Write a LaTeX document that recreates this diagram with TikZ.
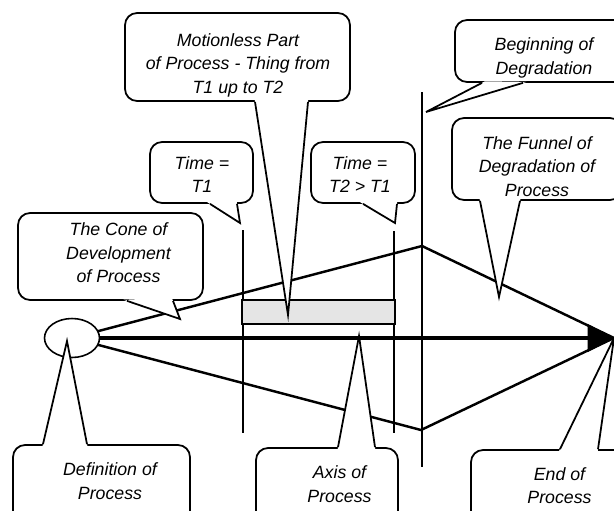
\documentclass[tikz,border=0pt]{standalone}
\usepackage{fontspec}
\setmainfont{Liberation Sans}
\usetikzlibrary{shapes.geometric, arrows.meta, calc}

\begin{document}
\begin{tikzpicture}[
          x=0.02cm, y=-0.02cm,
          txt/.style={font=\fontsize{10.1}{13.4}\selectfont\itshape, align=center, inner sep=0pt},
          bubble/.style={draw, fill=white, line width=1pt, rounded corners=0.24cm, inner sep=0pt},
          tail/.style={line width=1pt},
          conline/.style={line width=1.4pt},
          axisline/.style={line width=2pt, -{Triangle[length=15pt, width=15.5pt]}},
          tline/.style={line width=0.9pt},
          restbar/.style={draw, fill=black!10, line width=1.4pt, minimum width=3.06cm, minimum height=0.48cm, inner sep=0pt}
        ]
        \useasboundingbox (0,0) rectangle (614,510);
        \clip (0,0) rectangle (614,510);

        % main points of the process
        \coordinate (ctop) at (422,246);
        \coordinate (cbot) at (421,430);
        \coordinate (tipend) at (614,338);
        \coordinate (t1a) at (243,230);
        \coordinate (t1b) at (243,433);
        \coordinate (t2a) at (394,231);
        \coordinate (t2b) at (394,433);
        \coordinate (dga) at (422,92);
        \coordinate (dgb) at (422,467);

        % where the callouts point
        \coordinate (motiontip) at (288,315);
        \coordinate (begintip) at (426,112);
        \coordinate (funneltip) at (499,297);
        \coordinate (time1tip) at (240,223);
        \coordinate (time2tip) at (395,223);
        \coordinate (conetip) at (180,319);
        \coordinate (deftip) at (67,341);
        \coordinate (axistip) at (359,336);

        \node[ellipse, minimum width=1.1cm, minimum height=0.78cm, inner sep=0pt] (defpt) at (72,338) {};

        \draw[tline] (t1a) -- (t1b);
        \draw[tline] (t2a) -- (t2b);
        \draw[tline] (dga) -- (dgb);

        \draw[conline] (defpt) -- (ctop) -- (tipend) -- (cbot) -- (defpt);
        \draw[axisline] (defpt) -- (tipend);
        \node[draw, fill=white, line width=0.9pt, ellipse, minimum width=1.1cm, minimum height=0.78cm, inner sep=0pt] at (defpt) {};

        \node[restbar] (rest) at (318.5,312) {};

        % callout boxes
        \node[bubble, minimum width=4.5cm, minimum height=1.76cm] (motionbox) at (237.5,57) {};
        \node[bubble, minimum width=3.56cm, minimum height=1.24cm] (beginbox) at (544,51) {};
        \node[bubble, minimum width=3.4cm, minimum height=1.64cm] (funnelbox) at (537,159) {};
        \node[bubble, minimum width=2.06cm, minimum height=1.22cm] (time1box) at (201.5,172.5) {};
        \node[bubble, minimum width=2.08cm, minimum height=1.22cm] (time2box) at (363,172.5) {};
        \node[bubble, minimum width=3.7cm, minimum height=1.74cm] (conebox) at (110.5,256.5) {};
        \node[bubble, minimum width=3.54cm, minimum height=1.6cm] (defbox) at (101.5,485) {};
        \node[bubble, minimum width=2.84cm, minimum height=1.6cm] (axisbox) at (327,488) {};
        \node[bubble, minimum width=3.2cm, minimum height=1.6cm] (endbox) at (551,490) {};

        \node[txt] (motion) at (238,65) {Motionless Part\\of Process - Thing from\\T1 up to T2};
        \node[txt] (begintxt) at (544,58) {Beginning of\\Degradation};
        \node[txt] (funnel) at (537,166.5) {The Funnel of\\Degradation of\\Process};
        \node[txt] (time1) at (202,174.5) {Time =\\T1};
        \node[txt] (time2) at (360,174.5) {Time =\\T2 > T1};
        \node[txt] (cone) at (118.5,253) {The Cone of\\Development\\of Process};
        \node[txt] (definition) at (110,481) {Definition of\\Process};
        \node[txt] (axistxt) at (339.5,484) {Axis of\\Process};
        \node[txt] (endtxt) at (559.5,485.5) {End of\\Process};

        % callout tails
        \foreach \bub/\sd/\xa/\xb/\tip in {motionbox/south/255/308/motiontip,
            beginbox/south/482/523/begintip, funnelbox/south/480/520/funneltip,
            time1box/south/210/237/time1tip, time2box/south/363/397/time2tip,
            conebox/south/127/173/conetip, defbox/north/43/87/deftip,
            axisbox/north/338/375/axistip, endbox/north/560/598/tipend}{
            \coordinate (pa) at (\xa,0 |- \bub.\sd);
            \coordinate (pb) at (\xb,0 |- \bub.\sd);
            \fill[white] ($(pa)!-2pt!(\tip)$) -- (\tip) -- ($(pb)!-2pt!(\tip)$) -- cycle;
            \draw[tail] (pa) -- (\tip) -- (pb);
        }

        \end{tikzpicture}
\end{document}
